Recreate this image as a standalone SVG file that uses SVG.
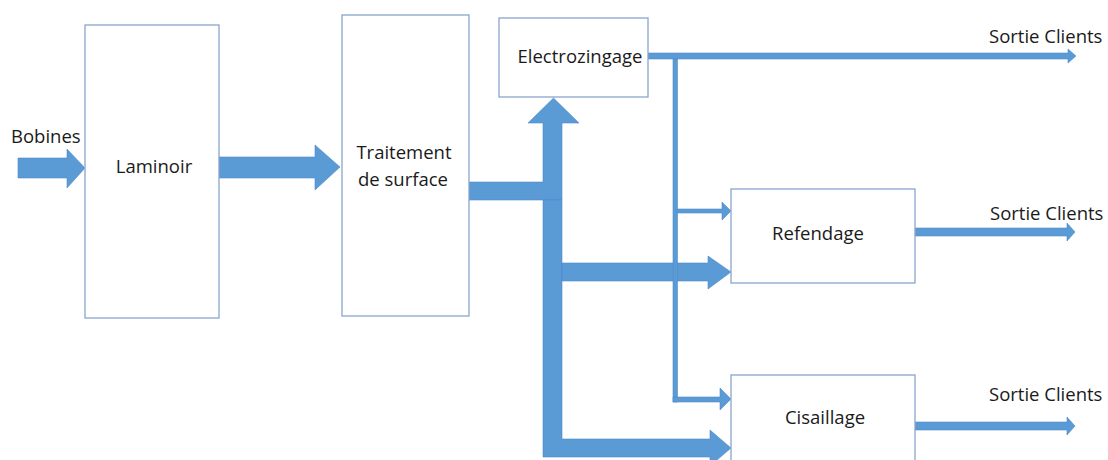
<svg xmlns="http://www.w3.org/2000/svg" width="1108" height="460" viewBox="0 0 1108 460">
<style>
.box{fill:#ffffff;stroke:#8aa6cc;stroke-width:1.3}
.arr{fill:#5b9bd5;stroke:#4f8cc9;stroke-width:0.6}
.t{font-family:"Open Sans","Noto Sans",sans-serif;font-size:18.5px;fill:#1a1a1a}
.m{text-anchor:middle}
</style>
<rect width="1108" height="460" fill="#ffffff"/>
<g id="connectors">
<polygon class="arr" points="18,158 67,158 67,149 85,168 67,188 67,178 18,178"/>
<polygon class="arr" points="219,157 315,157 315,145 340,167 315,190 315,178 219,178"/>
<polygon class="arr" points="469,182 543,182 543,123 528,123 553.5,98 579,123 562,123 562,200 469,200"/>
<polygon class="arr" points="543,200 562,200 562,439 710,439 710,430 731,448 710,466 710,457 543,457"/>
<polygon class="arr" points="562,263 708,263 708,256 731,272 708,289 708,281 562,281"/>
<polygon class="arr" points="648,53 1068,53 1068,49 1076,56 1068,63 1068,59 648,59"/>
<rect class="arr" x="673" y="59" width="4.5" height="343"/>
<polygon class="arr" points="677,209 722,209 722,202 731,211 722,220 722,213 677,213"/>
<polygon class="arr" points="673,397 720,397 720,388 731,399 720,410 720,402 673,402"/>
<polygon class="arr" points="915,228 1067,228 1067,223 1075,232 1067,241 1067,236 915,236"/>
<polygon class="arr" points="915,422 1067,422 1067,417 1075,426 1067,435 1067,430 915,430"/>
</g>
<g id="bobines"><text class="t" x="11" y="143">Bobines</text></g>
<g id="laminoir"><rect class="box" x="85" y="25" width="134" height="293"/><text class="t m" x="154" y="173">Laminoir</text></g>
<g id="traitement"><rect class="box" x="342" y="15" width="127" height="301"/><text class="t m" x="404" y="159">Traitement</text><text class="t m" x="403" y="186">de surface</text></g>
<g id="electrozingage"><rect class="box" x="499" y="18" width="149" height="79"/><text class="t m" x="580" y="63">Electrozingage</text></g>
<g id="refendage"><rect class="box" x="731" y="189" width="184" height="94"/><text class="t m" x="818" y="240">Refendage</text></g>
<g id="cisaillage"><rect class="box" x="731" y="375" width="184" height="95"/><text class="t m" x="825" y="424">Cisaillage</text></g>
<g id="sorties">
<text class="t" x="989" y="43">Sortie Clients</text>
<text class="t" x="990" y="220">Sortie Clients</text>
<text class="t" x="989" y="401">Sortie Clients</text>
</g>
</svg>
